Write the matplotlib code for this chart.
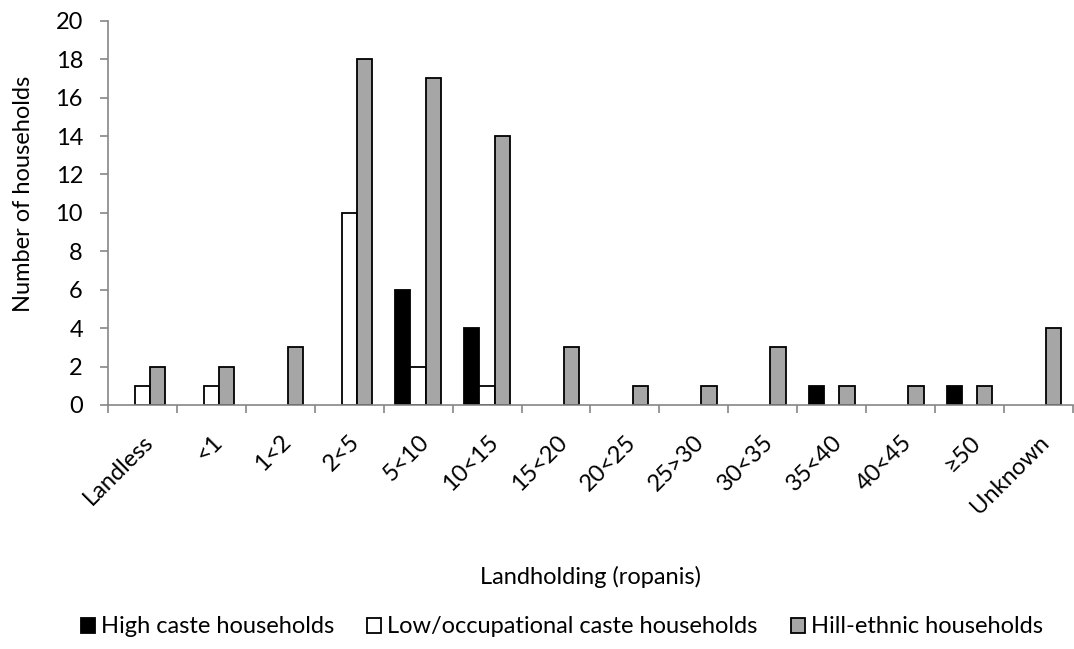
import numpy as np
import matplotlib as mpl
mpl.use('Agg')
import matplotlib.pyplot as plt

categories = ['Landless', '<1', '1<2', '2<5', '5<10', '10<15', '15<20', '20<25',
              '25>30', '30<35', '35<40', '40<45', '\u226550', 'Unknown']
high_caste = [0, 0, 0, 0, 6, 4, 0, 0, 0, 0, 1, 0, 1, 0]
low_caste = [1, 1, 0, 10, 2, 1, 0, 0, 0, 0, 0, 0, 0, 0]
hill_ethnic = [2, 2, 3, 18, 17, 14, 3, 1, 1, 3, 1, 1, 1, 4]

series = [('High caste households', high_caste, 'black'),
          ('Low/occupational caste households', low_caste, 'white'),
          ('Hill-ethnic households', hill_ethnic, '#a6a6a6')]

plt.rcParams['font.family'] = ['Lato', 'DejaVu Sans']
plt.rcParams['font.size'] = 17

fig = plt.figure(figsize=(10.74, 6.49), dpi=100)
ax = fig.add_axes([0.1005, 0.376, 0.8985, 0.592])

x = np.arange(len(categories))
w = 0.222
for i, (name, vals, col) in enumerate(series):
    vals = np.array(vals, dtype=float)
    mask = vals > 0
    ax.bar(x[mask] + (i - 1) * w, vals[mask], w, color=col, edgecolor='black',
           linewidth=1.3, label=name)

ax.set_xlim(-0.5, len(categories) - 0.5)
ax.set_ylim(0, 20)
ax.set_yticks(np.arange(0, 21, 2))
# boundary ticks, labels centred on categories
ax.set_xticks(np.arange(-0.5, len(categories), 1))
ax.set_xticklabels([])
ax.set_xticks(x, minor=True)
ax.set_xticklabels(categories, minor=True, rotation=45, ha='right',
                   rotation_mode='anchor')
ax.tick_params(axis='x', which='minor', length=0, pad=19)
ax.tick_params(axis='x', which='major', length=6, color='#868686', width=1.2)
ax.tick_params(axis='y', length=6, color='#868686', width=1.2, pad=12)

for s in ['top', 'right']:
    ax.spines[s].set_visible(False)
for s in ['left', 'bottom']:
    ax.spines[s].set_color('#868686')
    ax.spines[s].set_linewidth(1.2)

ax.set_ylabel('Number of households', va='center')
ax.yaxis.set_label_coords(-0.087, 0.55)
ax.set_xlabel('Landholding (ropanis)', va='center')
ax.xaxis.set_label_coords(0.5, -0.448)

fig.legend(loc='center', bbox_to_anchor=(0.523, 0.034), ncol=3, frameon=False,
           handlelength=0.6, handleheight=0.6, handletextpad=0.25, columnspacing=1.4,
           fontsize=17)

fig.savefig('out.png')
